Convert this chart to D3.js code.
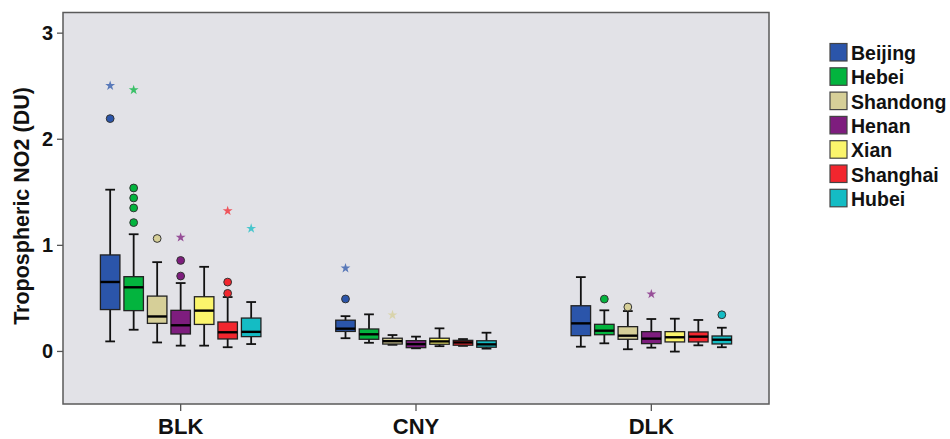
<html>
<head>
<title>Tropospheric NO2 box plot</title>
<script src="https://d3js.org/d3.v7.min.js" charset="utf-8"></script>
<style>
body { margin: 0; background: white; font-family: "Liberation Sans", Arial, sans-serif; }
text { font-family: "Liberation Sans", Arial, sans-serif; font-weight: bold; }
</style>
</head>
<body>
<script>
// periods on the x axis and the provinces/cities in each group
var groups = ["BLK", "CNY", "DLK"];
var cities = ["Beijing", "Hebei", "Shandong", "Henan", "Xian", "Shanghai", "Hubei"];
var colors = ["#2b55aa", "#03b43e", "#d6cf98", "#7e1d7e", "#fbf56c", "#f2262e", "#14bcc4"];

// box stats, one row per group (BLK, CNY, DLK), one value per city
var whiskLow = [
	[0.09, 0.20, 0.08, 0.05, 0.05, 0.035, 0.065],
	[0.12, 0.077, 0.058, 0.025, 0.045, 0.048, 0.022],
	[0.04, 0.072, 0.016, 0.031, -0.006, 0.053, 0.035]
];
var q1 = [
	[0.39, 0.38, 0.26, 0.16, 0.25, 0.113, 0.135],
	[0.184, 0.11, 0.065, 0.031, 0.063, 0.054, 0.035],
	[0.144, 0.153, 0.11, 0.069, 0.085, 0.085, 0.066]
];
var median = [
	[0.65, 0.60, 0.325, 0.242, 0.38, 0.176, 0.18],
	[0.21, 0.157, 0.092, 0.064, 0.09, 0.08, 0.062],
	[0.26, 0.191, 0.144, 0.116, 0.129, 0.135, 0.106]
];
var q3 = [
	[0.905, 0.70, 0.517, 0.383, 0.511, 0.273, 0.31],
	[0.29, 0.207, 0.12, 0.097, 0.12, 0.1, 0.096],
	[0.426, 0.251, 0.229, 0.182, 0.182, 0.179, 0.141]
];
var whiskHigh = [
	[1.52, 1.10, 0.837, 0.64, 0.793, 0.508, 0.461],
	[0.328, 0.345, 0.15, 0.135, 0.213, 0.112, 0.172],
	[0.696, 0.383, 0.376, 0.301, 0.304, 0.292, 0.219]
];

// outliers: [group, city, value]
var circleOutliers = [
	["BLK", "Beijing", 2.19],
	["BLK", "Hebei", 1.536], ["BLK", "Hebei", 1.442], ["BLK", "Hebei", 1.348], ["BLK", "Hebei", 1.21],
	["BLK", "Shandong", 1.06],
	["BLK", "Henan", 0.853], ["BLK", "Henan", 0.706],
	["BLK", "Shanghai", 0.649], ["BLK", "Shanghai", 0.543],
	["CNY", "Beijing", 0.49],
	["DLK", "Hebei", 0.489],
	["DLK", "Shandong", 0.414],
	["DLK", "Hubei", 0.341]
];
var starOutliers = [
	["BLK", "Beijing", 2.50],
	["BLK", "Hebei", 2.46],
	["BLK", "Henan", 1.07],
	["BLK", "Shanghai", 1.32],
	["BLK", "Hubei", 1.154],
	["CNY", "Beijing", 0.78],
	["CNY", "Shandong", 0.339],
	["DLK", "Henan", 0.536]
];

var yTicks = [0, 1, 2, 3];
var yTitle = "Tropospheric NO2 (DU)";

var width = 950;
var height = 439;
var plotLeft = 63, plotRight = 769, plotTop = 12.5, plotBottom = 404;

var svg = d3.select("body")
	.append("svg")
	.attr("width", width)
	.attr("height", height);

var x = d3.scaleBand().domain(groups).range([plotLeft, plotRight]).padding(0);
var step = 23.5;
var inner = d3.scaleBand().domain(cities).range([0, step * cities.length]);
var boxW = 19.5;
var y = d3.scaleLinear().domain([-0.5, 3.19]).range([plotBottom, plotTop]);
var color = d3.scaleOrdinal().domain(cities).range(colors);

// center of a box
function cx(g, c) {
	return x(g) + x.bandwidth() / 2 - step * cities.length / 2 + inner(c) + inner.bandwidth() / 2;
}

// plot background
svg.append("rect")
	.attr("x", plotLeft).attr("y", plotTop)
	.attr("width", plotRight - plotLeft).attr("height", plotBottom - plotTop)
	.attr("fill", "#e2e2e7")
	.attr("stroke", "#5a5a5a")
	.attr("stroke-width", 1.5);

// flatten stats into rows
var rows = [];
groups.forEach(function(g, gi) {
	cities.forEach(function(c, ci) {
		rows.push({ g: g, c: c, lo: whiskLow[gi][ci], q1: q1[gi][ci], med: median[gi][ci], q3: q3[gi][ci], hi: whiskHigh[gi][ci] });
	});
});

var box = svg.append("g").selectAll("g")
	.data(rows)
	.enter()
	.append("g");

// whisker stem
box.append("line")
	.attr("x1", function(d) { return cx(d.g, d.c); })
	.attr("x2", function(d) { return cx(d.g, d.c); })
	.attr("y1", function(d) { return y(d.lo); })
	.attr("y2", function(d) { return y(d.hi); })
	.attr("stroke", "#111").attr("stroke-width", 1.8);

// whisker caps
["lo", "hi"].forEach(function(k) {
	box.append("line")
		.attr("x1", function(d) { return cx(d.g, d.c) - boxW / 4; })
		.attr("x2", function(d) { return cx(d.g, d.c) + boxW / 4; })
		.attr("y1", function(d) { return y(d[k]); })
		.attr("y2", function(d) { return y(d[k]); })
		.attr("stroke", "#111").attr("stroke-width", 1.8);
});

// box
box.append("rect")
	.attr("x", function(d) { return cx(d.g, d.c) - boxW / 2; })
	.attr("width", boxW)
	.attr("y", function(d) { return y(d.q3); })
	.attr("height", function(d) { return y(d.q1) - y(d.q3); })
	.attr("fill", function(d) { return color(d.c); })
	.attr("stroke", "#222").attr("stroke-width", 1.3);

// median
box.append("line")
	.attr("x1", function(d) { return cx(d.g, d.c) - boxW / 2; })
	.attr("x2", function(d) { return cx(d.g, d.c) + boxW / 2; })
	.attr("y1", function(d) { return y(d.med); })
	.attr("y2", function(d) { return y(d.med); })
	.attr("stroke", "#000").attr("stroke-width", 2.4);

// circle outliers
svg.append("g").selectAll("circle")
	.data(circleOutliers)
	.enter()
	.append("circle")
	.attr("cx", function(d) { return cx(d[0], d[1]); })
	.attr("cy", function(d) { return y(d[2]); })
	.attr("r", 3.9)
	.attr("fill", function(d) { return color(d[1]); })
	.attr("stroke", "#333").attr("stroke-width", 1);

// extreme outliers (stars)
var star = d3.symbol().type(d3.symbolStar).size(30);
svg.append("g").selectAll("path")
	.data(starOutliers)
	.enter()
	.append("path")
	.attr("d", star)
	.attr("transform", function(d) { return "translate(" + cx(d[0], d[1]) + "," + y(d[2]) + ")"; })
	.attr("fill", function(d) { return color(d[1]); })
	.attr("opacity", 0.75);

// y axis
var yAxis = svg.append("g")
	.attr("transform", "translate(" + plotLeft + ",0)")
	.call(d3.axisLeft(y).tickValues(yTicks).tickSize(6).tickPadding(4).tickFormat(d3.format("d")));
yAxis.select(".domain").remove();
yAxis.selectAll("line").attr("stroke", "#555").attr("stroke-width", 1.3);
yAxis.selectAll("text").attr("font-size", 20).attr("fill", "#111");

// x axis
var xAxis = svg.append("g")
	.attr("transform", "translate(0," + plotBottom + ")")
	.call(d3.axisBottom(x).tickSize(7).tickPadding(7));
xAxis.select(".domain").remove();
xAxis.selectAll("line").attr("stroke", "#555").attr("stroke-width", 1.3);
xAxis.selectAll("text").attr("font-size", 22).attr("fill", "#111");

// y title
svg.append("text")
	.attr("transform", "translate(29,206) rotate(-90)")
	.attr("text-anchor", "middle")
	.attr("font-size", 21.5)
	.attr("fill", "#111")
	.text(yTitle);

// legend
var legend = svg.append("g").selectAll("g")
	.data(cities)
	.enter()
	.append("g")
	.attr("transform", function(d, i) { return "translate(830," + (43.5 + i * 24.3) + ")"; });
legend.append("rect")
	.attr("width", 17).attr("height", 17.5)
	.attr("fill", function(d) { return color(d); })
	.attr("stroke", "#444").attr("stroke-width", 1.2);
legend.append("text")
	.attr("x", 21).attr("y", 16.5)
	.attr("font-size", 19.5)
	.attr("fill", "#111")
	.text(function(d) { return d; });
</script>
</body>
</html>
